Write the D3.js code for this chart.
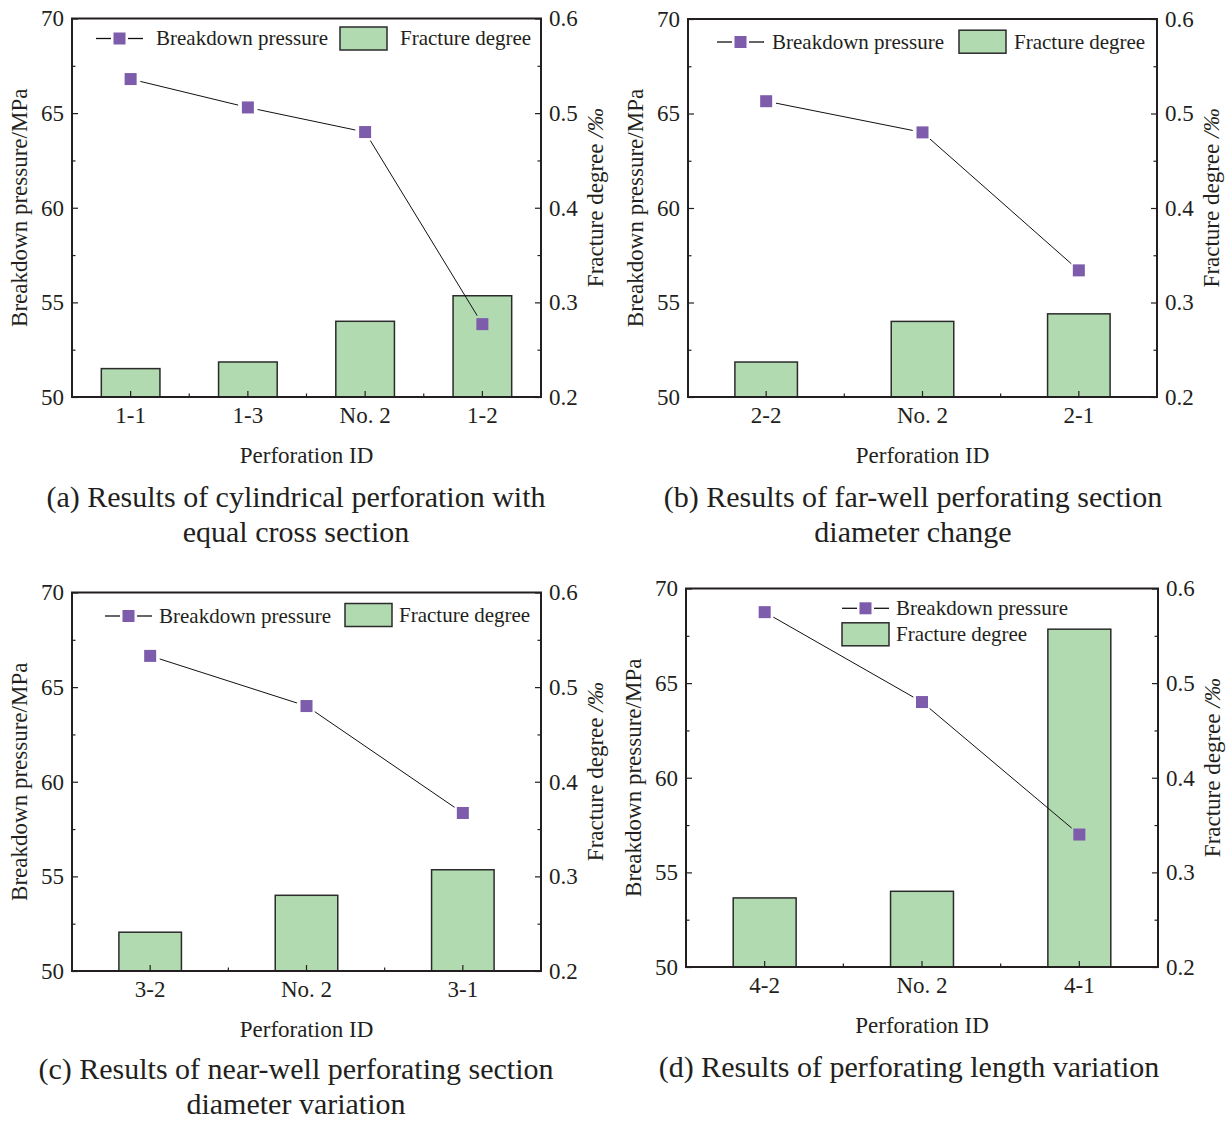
<!DOCTYPE html>
<html>
<head>
<meta charset="utf-8">
<script src="https://cdn.jsdelivr.net/npm/d3@7"></script>
<style>
  body { margin: 0; background: #fff; }
  svg text { font-family: "Liberation Serif", "Times New Roman", serif; fill: #231f20; }
</style>
</head>
<body>
<svg id="chart" width="1231" height="1123"></svg>
<script>
// ---- data ----
const catsA = ["1-1", "1-3", "No. 2", "1-2"];
const pressureA = [66.8, 65.3, 64.0, 53.85];
const fractureA = [0.230, 0.237, 0.280, 0.307];

const catsB = ["2-2", "No. 2", "2-1"];
const pressureB = [65.65, 64.0, 56.7];
const fractureB = [0.237, 0.280, 0.288];

const catsC = ["3-2", "No. 2", "3-1"];
const pressureC = [66.65, 64.0, 58.35];
const fractureC = [0.241, 0.280, 0.307];

const catsD = ["4-2", "No. 2", "4-1"];
const pressureD = [68.75, 64.0, 57.0];
const fractureD = [0.273, 0.280, 0.557];

const leftTicks = [50, 55, 60, 65, 70];
const rightTicks = [0.2, 0.3, 0.4, 0.5, 0.6];

const titleA = ["(a) Results of cylindrical perforation with", "equal cross section"];
const titleB = ["(b) Results of far-well perforating section", "diameter change"];
const titleC = ["(c) Results of near-well perforating section", "diameter variation"];
const titleD = ["(d) Results of perforating length variation"];

// ---- layout (pixel boxes of each plot frame, legend spots) ----
const panels = [
  { cats: catsA, pres: pressureA, frac: fractureA, title: titleA,
    x0: 72, x1: 541, y0: 18.5, y1: 397, bar: 0.5, tx: 296, ty: 498,
    lx: 96, ly: 38.5, rx: 340, ry: 38.5, gap: 60 },
  { cats: catsB, pres: pressureB, frac: fractureB, title: titleB,
    x0: 688, x1: 1157, y0: 19, y1: 397, bar: 0.4, tx: 913, ty: 498,
    lx: 717, ly: 42, rx: 959, ry: 41.7, gap: 55 },
  { cats: catsC, pres: pressureC, frac: fractureC, title: titleC,
    x0: 72, x1: 541, y0: 592.5, y1: 971, bar: 0.4, tx: 296, ty: 1070,
    lx: 105, ly: 616, rx: 345, ry: 615, gap: 54 },
  { cats: catsD, pres: pressureD, frac: fractureD, title: titleD,
    x0: 686, x1: 1158, y0: 588.5, y1: 967, bar: 0.4, tx: 909, ty: 1068,
    lx: 842, ly: 608.3, rx: 842, ry: 634.3, gap: 54 }
];

const barFill = "#b1dab0";
const markFill = "#7d5cab";
const ink = "#231f20";

const svg = d3.select("#chart");

function drawPanel(p) {
  const g = svg.append("g");
  const x = d3.scaleBand().domain(p.cats).range([p.x0, p.x1]);
  const yL = d3.scaleLinear().domain([50, 70]).range([p.y1, p.y0]);
  const yR = d3.scaleLinear().domain([0.2, 0.6]).range([p.y1, p.y0]);
  const bw = x.step() * p.bar;
  const cx = (d) => x(d) + x.bandwidth() / 2;

  // bars (fracture degree, right axis)
  g.selectAll("rect.bar")
    .data(p.cats)
    .enter().append("rect")
    .attr("class", "bar")
    .attr("x", (d) => cx(d) - bw / 2)
    .attr("y", (d, i) => yR(p.frac[i]))
    .attr("width", bw)
    .attr("height", (d, i) => p.y1 - yR(p.frac[i]))
    .attr("fill", barFill)
    .attr("stroke", "#2b2b2b")
    .attr("stroke-width", 1.5);

  // axes: ticks inward
  g.append("g").attr("transform", `translate(${p.x0},0)`)
    .call(d3.axisLeft(yL).tickValues(leftTicks).tickSize(-6).tickPadding(8));
  g.append("g").attr("transform", `translate(${p.x0},0)`)
    .call(d3.axisLeft(yL).tickValues([52.5, 57.5, 62.5, 67.5]).tickSize(-3.5).tickFormat(""));
  g.append("g").attr("transform", `translate(${p.x1},0)`)
    .call(d3.axisRight(yR).tickValues(rightTicks).tickSize(-6).tickPadding(8).tickFormat(d3.format(".1f")));
  g.append("g").attr("transform", `translate(${p.x1},0)`)
    .call(d3.axisRight(yR).tickValues([0.25, 0.35, 0.45, 0.55]).tickSize(-3.5).tickFormat(""));
  const bottom = g.append("g").attr("transform", `translate(0,${p.y1})`)
    .call(d3.axisBottom(x).tickSize(-6).tickPadding(10));
  // minor ticks between categories
  g.selectAll("line.minor")
    .data(p.cats.slice(1))
    .enter().append("line")
    .attr("x1", (d) => x(d)).attr("x2", (d) => x(d))
    .attr("y1", p.y1).attr("y2", p.y1 - 3.5)
    .attr("stroke", ink).attr("stroke-width", 1.2);

  g.selectAll(".domain").remove();
  g.selectAll(".tick line").attr("stroke", ink).attr("stroke-width", 1.2);
  g.selectAll(".tick text").attr("font-size", 23).attr("fill", ink);
  bottom.selectAll(".tick text").attr("dy", "0.71em");

  // frame
  g.append("rect")
    .attr("x", p.x0).attr("y", p.y0)
    .attr("width", p.x1 - p.x0).attr("height", p.y1 - p.y0)
    .attr("fill", "none").attr("stroke", ink).attr("stroke-width", 2);

  // breakdown pressure: segments stop short of the markers
  const pts = p.pres.map((v, i) => [cx(p.cats[i]), yL(v)]);
  const segs = d3.pairs(pts).map(([a, b]) => {
    const dx = b[0] - a[0], dy = b[1] - a[1];
    const len = Math.hypot(dx, dy), s = 10 / len;
    return [[a[0] + dx * s, a[1] + dy * s], [b[0] - dx * s, b[1] - dy * s]];
  });
  g.selectAll("path.seg")
    .data(segs)
    .enter().append("path")
    .attr("class", "seg")
    .attr("d", d3.line())
    .attr("fill", "none").attr("stroke", "#111").attr("stroke-width", 1);
  g.selectAll("rect.mark")
    .data(pts)
    .enter().append("rect")
    .attr("class", "mark")
    .attr("x", (d) => d[0] - 6)
    .attr("y", (d) => d[1] - 6)
    .attr("width", 12).attr("height", 12)
    .attr("fill", markFill);

  // axis titles
  const midY = (p.y0 + p.y1) / 2;
  g.append("text")
    .attr("transform", `translate(${p.x0 - 45},${midY}) rotate(-90)`)
    .attr("text-anchor", "middle").attr("font-size", 23)
    .text("Breakdown pressure/MPa");
  const rt = g.append("text")
    .attr("transform", `translate(${p.x1 + 62},${midY - 10}) rotate(-90)`)
    .attr("text-anchor", "middle").attr("font-size", 23);
  rt.append("tspan").text("Fracture degree ");
  rt.append("tspan").attr("font-style", "italic").text("/‰");
  g.append("text")
    .attr("x", (p.x0 + p.x1) / 2).attr("y", p.y1 + 66)
    .attr("text-anchor", "middle").attr("font-size", 23)
    .text("Perforation ID");

  // legend
  const lg = g.append("g");
  lg.append("line").attr("x1", p.lx).attr("x2", p.lx + 15).attr("y1", p.ly).attr("y2", p.ly)
    .attr("stroke", "#111").attr("stroke-width", 1.3);
  lg.append("line").attr("x1", p.lx + 32).attr("x2", p.lx + 47).attr("y1", p.ly).attr("y2", p.ly)
    .attr("stroke", "#111").attr("stroke-width", 1.3);
  lg.append("rect").attr("x", p.lx + 23.5 - 6).attr("y", p.ly - 6)
    .attr("width", 12).attr("height", 12).attr("fill", markFill);
  lg.append("text").attr("x", p.lx + p.gap).attr("y", p.ly).attr("dy", "0.33em")
    .attr("font-size", 21).text("Breakdown pressure");
  lg.append("rect").attr("x", p.rx).attr("y", p.ry - 11.5)
    .attr("width", 47).attr("height", 23)
    .attr("fill", barFill).attr("stroke", "#2b2b2b").attr("stroke-width", 1.5);
  lg.append("text").attr("x", p.rx + p.gap).attr("y", p.ry).attr("dy", "0.33em")
    .attr("font-size", 21).text("Fracture degree");

  // caption
  p.title.forEach((t, i) => {
    svg.append("text")
      .attr("x", p.tx).attr("y", p.ty + i * 35).attr("dy", "0.3em")
      .attr("text-anchor", "middle").attr("font-size", 30)
      .text(t);
  });
}

panels.forEach(drawPanel);
</script>
</body>
</html>
